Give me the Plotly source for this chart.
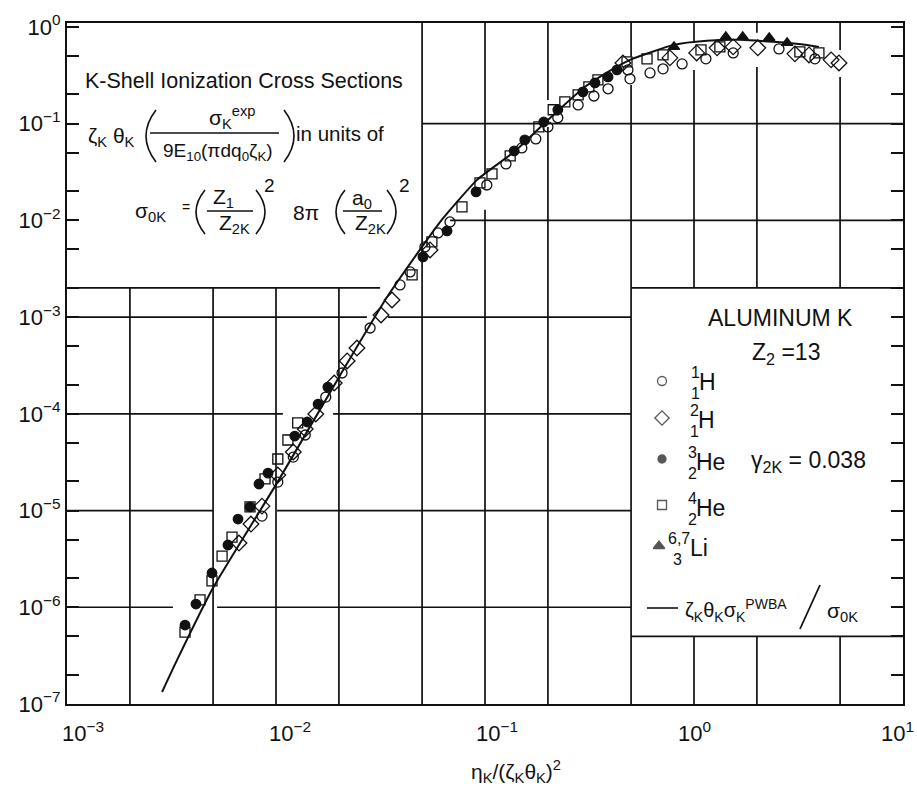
import numpy as np
import plotly.graph_objects as go

# ------------------------------------------------------------------ data
# 1H (open circles)
h1_x = [8.57e-3, 1.02e-2, 1.21e-2, 1.38e-2, 1.73e-2, 2.07e-2, 2.82e-2, 3.92e-2, 4.38e-2,
        5.16e-2, 5.96e-2, 6.80e-2, 0.102, 0.126, 0.150, 0.175, 0.200, 0.223, 0.279, 0.332,
        0.388, 0.483, 0.494, 0.616, 0.711, 0.877, 1.14, 1.54, 2.55, 3.79]
h1_y = [8.77e-6, 1.97e-5, 3.57e-5, 6.04e-5, 1.49e-4, 2.64e-4, 7.71e-4, 2.15e-3, 2.93e-3,
        5.31e-3, 7.41e-3, 9.62e-3, 2.32e-2, 3.83e-2, 5.61e-2, 6.95e-2, 9.25e-2, 0.115, 0.156,
        0.193, 0.229, 0.359, 0.290, 0.334, 0.368, 0.414, 0.467, 0.538, 0.592, 0.467]
# 2H (open diamonds)
h2_x = [6.65e-3, 7.59e-3, 8.57e-3, 1.02e-2, 1.21e-2, 1.38e-2, 1.55e-2, 1.90e-2, 2.19e-2,
        2.44e-2, 3.18e-2, 3.59e-2, 5.46e-2, 0.457, 0.767, 1.03, 1.29, 1.54, 2.02, 3.04,
        3.55, 4.53, 4.94]
h2_y = [4.61e-6, 7.25e-6, 1.11e-5, 2.33e-5, 4.03e-5, 6.97e-5, 9.96e-5, 2.08e-4, 3.52e-4,
        4.79e-4, 1.05e-3, 1.50e-3, 4.94e-3, 0.424, 0.478, 0.538, 0.607, 0.621, 0.607, 0.526,
        0.513, 0.456, 0.424]
# 3He (filled circles)
he3_x = [3.67e-3, 4.14e-3, 4.94e-3, 5.89e-3, 6.58e-3, 7.51e-3, 8.29e-3, 9.16e-3, 1.23e-2,
         1.41e-2, 1.59e-2, 1.77e-2, 5.05e-2, 6.58e-2, 9.06e-2, 0.138, 0.155, 0.191, 0.223,
         0.294, 0.336, 0.388, 0.428]
he3_y = [6.55e-7, 1.08e-6, 2.26e-6, 4.40e-6, 8.17e-6, 1.09e-5, 1.88e-5, 2.44e-5, 5.89e-5,
         8.23e-5, 1.26e-4, 1.89e-4, 4.19e-3, 7.77e-3, 1.97e-2, 5.22e-2, 6.78e-2, 0.104, 0.139,
         0.213, 0.264, 0.304, 0.359]
# 4He (open squares)
he4_x = [3.67e-3, 4.33e-3, 4.94e-3, 5.52e-3, 6.16e-3, 7.51e-3, 8.86e-3, 1.02e-2, 1.14e-2,
         1.27e-2, 4.48e-2, 5.57e-2, 7.76e-2, 9.46e-2, 0.108, 0.132, 0.181, 0.212, 0.241,
         0.279, 0.314, 0.347, 0.478, 0.596, 0.711, 1.08, 1.33, 3.21, 3.96]
he4_y = [5.54e-7, 1.19e-6, 1.87e-6, 3.38e-6, 5.32e-6, 1.09e-5, 2.12e-5, 3.41e-5, 5.36e-5,
         8.04e-5, 2.73e-3, 5.98e-3, 1.38e-2, 2.44e-2, 3.02e-2, 4.63e-2, 9.25e-2, 0.139, 0.168,
         0.198, 0.240, 0.283, 0.435, 0.467, 0.513, 0.578, 0.621, 0.551, 0.538]
# 6,7Li (filled triangles)
li_x = [0.802, 1.42, 1.71, 2.29, 2.79]
li_y = [0.621, 0.788, 0.788, 0.769, 0.683]
# PWBA theory curve
pwba_x = [2.85e-3, 3.36e-3, 4.99e-3, 1.01e-2, 2.03e-2, 3.40e-2, 5.05e-2, 6.09e-2, 9.16e-2,
          0.138, 0.200, 0.301, 0.388, 0.494, 0.802, 1.15, 1.66, 2.39, 3.47, 3.96]
pwba_y = [1.33e-7, 2.84e-7, 1.58e-6, 1.92e-5, 2.52e-4, 1.61e-3, 5.5e-3, 9.60e-3, 2.62e-2,
          5.11e-2, 0.109, 0.240, 0.343, 0.456, 0.651, 0.717, 0.734, 0.700, 0.651, 0.621]

x_tick_exps = [-3, -2, -1, 0, 1]
y_tick_exps = [-7, -6, -5, -4, -3, -2, -1, 0]
minor_mults = [2, 5]

# ------------------------------------------------------------------ layout constants
W, H = 917, 792
L, R, T, B = 67, 903, 23, 704
FONT = "Liberation Sans"
INK = "#111111"
X_RANGE = [-3, 1]
Y_RANGE = [-7, 0.04]
lg = np.log10


def PX(x):
    return (x - L) / (R - L)


def PY(y):
    return (B - y) / (B - T)


def FX(lx):
    return (lx - X_RANGE[0]) / (X_RANGE[1] - X_RANGE[0])


def FY(ly):
    return (ly - Y_RANGE[0]) / (Y_RANGE[1] - Y_RANGE[0])


def exp_label(e):
    return "10<sup>" + str(e).replace("-", "\u2212") + "</sup>"


fig = go.Figure()

fig.add_trace(go.Scatter(x=pwba_x, y=pwba_y, mode="lines",
                         line=dict(color=INK, width=2, shape="spline", smoothing=0.5),
                         hoverinfo="skip", showlegend=False))
series = [
    (h1_x, h1_y, "circle-open", 10, INK),
    (h2_x, h2_y, "diamond-open", 12, INK),
    (he4_x, he4_y, "square-open", 10, INK),
    (he3_x, he3_y, "circle", 9.5, INK),
    (li_x, li_y, "triangle-up", 10, INK),
]
for xs, ys, sym, sz, col in series:
    fig.add_trace(go.Scatter(x=xs, y=ys, mode="markers",
                             marker=dict(symbol=sym, size=sz, color=col,
                                         line=dict(width=1.3, color=col)),
                             cliponaxis=False, showlegend=False))

# legend glyphs on an overlay pixel-space axis
leg_sym = ["circle-open", "diamond-open", "circle", "square-open", "triangle-up"]
leg_sz = [9, 11, 8, 9, 10]
leg_xy = [(662, 381), (662, 418), (662, 459), (662, 505), (659, 546)]
fig.add_trace(go.Scatter(x=[p[0] for p in leg_xy], y=[p[1] for p in leg_xy],
                         xaxis="x2", yaxis="y2", mode="markers",
                         marker=dict(symbol=leg_sym, size=leg_sz, color=INK,
                                     line=dict(width=1.3, color=INK)),
                         cliponaxis=False, showlegend=False, hoverinfo="skip"))

# ------------------------------------------------------------------ grid (graph-paper style)
shapes = []


def seg(x0, y0, x1, y1, w=1.7):
    shapes.append(dict(type="line", xref="paper", yref="paper",
                       x0=FX(x0), y0=FY(y0), x1=FX(x1), y1=FY(y1),
                       line=dict(color=INK, width=w), layer="below"))


top = Y_RANGE[1]
box_y = lg(2e-3)
leg_bot = lg(5e-7)
leg_left = lg(0.5)
for v in [2e-3, 5e-3, 1e-2, 2e-2]:
    seg(lg(v), -7, lg(v), box_y)
seg(lg(5e-2), -7, lg(5e-2), top)
seg(-1, -7, -1, -1.89); seg(-1, -1.51, -1, top)
seg(lg(0.2), -7, lg(0.2), -1.034); seg(lg(0.2), -0.755, lg(0.2), top)
seg(leg_left, -7, leg_left, -0.60); seg(leg_left, -0.31, leg_left, top)
for v, g0, g1 in [(1, -0.445, -0.165), (2, -0.414, -0.062), (5, -0.517, -0.238)]:
    seg(lg(v), -7, lg(v), leg_bot)
    seg(lg(v), box_y, lg(v), g0)
    seg(lg(v), g1, lg(v), top)
# horizontal decade lines
seg(lg(5e-2), -1, 1, -1)
seg(-1.167, -2, 1, -2)
for d, g0, g1 in [(-3, -1.565, -1.464), (-4, -1.967, -1.727), (-5, -2.301, -1.995),
                  (-6, -2.493, -2.282)]:
    seg(-3, d, g0, d)
    seg(g1, d, leg_left, d)
# box edges
seg(-3, box_y, -1.502, box_y)
seg(leg_left, box_y, 1, box_y)
seg(leg_left, leg_bot, 1, leg_bot)

# fraction bars (pixel coords)
for x0, x1, y in [(150, 279, 133), (207, 253, 211), (343, 382, 211)]:
    shapes.append(dict(type="line", xref="paper", yref="paper", x0=PX(x0), x1=PX(x1),
                       y0=PY(y), y1=PY(y), line=dict(color=INK, width=1.5)))
# legend line glyph and big slash
shapes.append(dict(type="line", xref="paper", yref="paper", x0=PX(647), x1=PX(678),
                   y0=PY(608), y1=PY(608), line=dict(color=INK, width=1.6)))
shapes.append(dict(type="line", xref="paper", yref="paper", x0=PX(800), x1=PX(820),
                   y0=PY(629), y1=PY(585), line=dict(color=INK, width=1.8)))


# thin parentheses as quadratic curves
def paren(xe, ytop, ybot, xc):
    ym = (ytop + ybot) / 2
    path = (f"M {PX(xe)},{PY(ytop)} Q {PX(xc)},{PY(ym)} {PX(xe)},{PY(ybot)}")
    shapes.append(dict(type="path", xref="paper", yref="paper", path=path,
                       line=dict(color=INK, width=1.6)))


for xe, yt, yb, xc in [(156, 110, 162, 136), (284, 110, 162, 304),
                       (205, 190, 234, 187), (256, 190, 234, 274),
                       (345, 190, 234, 327), (387, 190, 234, 405)]:
    paren(xe, yt, yb, xc)

# ------------------------------------------------------------------ annotations
anns = []


def ann(text, x, y, size=19, xa="center", ya="middle"):
    anns.append(dict(text=text, x=PX(x), y=PY(y), xref="paper", yref="paper",
                     xanchor=xa, yanchor=ya, showarrow=False,
                     font=dict(family=FONT, size=size, color=INK)))


# x tick labels
x_shift = [16, 14, 12, 0, -6]
for e, sh in zip(x_tick_exps, x_shift):
    anns.append(dict(text=exp_label(e), x=e, y=PY(732), xref="x", yref="paper",
                     xanchor="center", yanchor="middle", xshift=sh, showarrow=False,
                     font=dict(family=FONT, size=22, color=INK)))

# axis title
ann("η<sub>K</sub>/(ζ<sub>K</sub>θ<sub>K</sub>)<sup>2</sup>", 516, 772, 21)

# formula box
ann("K-Shell Ionization Cross Sections", 244, 81, 21.5)
ann("ζ<sub>K</sub> θ<sub>K</sub>", 86, 137, 21, xa="left")
ann("σ<sub>K</sub><sup>exp</sup>", 232, 118, 21)
ann("9E<sub>10</sub>(πdq<sub>0</sub>ζ<sub>K</sub>)", 218, 152, 19)
ann("in units of", 294, 133, 20.5, xa="left")
ann("σ<sub>0K</sub>", 133, 212, 21, xa="left")
ann("=", 186, 207, 14)
ann("Z<sub>1</sub>", 223, 198, 21)
ann("Z<sub>2K</sub>", 234, 224, 21)
ann("2", 269, 186, 19)
ann("8π", 306, 212, 21)
ann("a<sub>0</sub>", 362, 199, 21)
ann("Z<sub>2K</sub>", 370, 224, 21)
ann("2", 404, 186, 19)

# legend box text
ann("ALUMINUM K", 780, 318, 23)
ann("Z<sub>2</sub> =13", 786, 353, 23)
iso = [("1", "1", "H", 689, 381), ("2", "1", "H", 688, 419), ("3", "2", "He", 686, 461),
       ("4", "2", "He", 686, 507), ("6,7", "3", "Li", 666, 547)]
for a, z, el, x, y in iso:
    ann(a, x, y - 9, 16, xa="left")
    ann(z, x + (5 if el == "Li" else 0), y + 12, 16, xa="left")
    ann(el, x + (22 if el == "Li" else 8), y + 1, 23, xa="left")
ann("γ<sub>2K</sub> = 0.038", 749, 461, 23, xa="left")
ann("ζ<sub>K</sub>θ<sub>K</sub>σ<sub>K</sub><sup>PWBA</sup>", 683, 610, 20, xa="left")
ann("σ<sub>0K</sub>", 825, 612, 21, xa="left")

# ------------------------------------------------------------------ axes
y_tickvals, y_ticktext = [], []
for e in y_tick_exps:
    y_tickvals.append(10.0 ** e)
    y_ticktext.append(exp_label(e))
    if e < 0:
        for m in minor_mults:
            y_tickvals.append(m * 10.0 ** e)
            y_ticktext.append("")

fig.update_layout(
    width=W, height=H, autosize=False,
    margin=dict(l=L, r=W - R, t=T, b=H - B),
    paper_bgcolor="white", plot_bgcolor="white",
    font=dict(family=FONT, color=INK),
    shapes=shapes, annotations=anns, showlegend=False,
    xaxis=dict(type="log", range=X_RANGE, showgrid=False, zeroline=False,
               showline=True, linecolor=INK, linewidth=2, mirror=True,
               ticks="", showticklabels=False),
    yaxis=dict(type="log", range=Y_RANGE, showgrid=False, zeroline=False,
               showline=True, linecolor=INK, linewidth=2, mirror="ticks",
               ticks="inside", ticklen=12, tickwidth=1.6, tickcolor=INK,
               tickmode="array", tickvals=y_tickvals, ticktext=y_ticktext,
               tickfont=dict(family=FONT, size=22, color=INK)),
    xaxis2=dict(overlaying="x", range=[L, R], visible=False, fixedrange=True),
    yaxis2=dict(overlaying="y", range=[B, T], visible=False, fixedrange=True),
)

fig.write_html("out.html")
